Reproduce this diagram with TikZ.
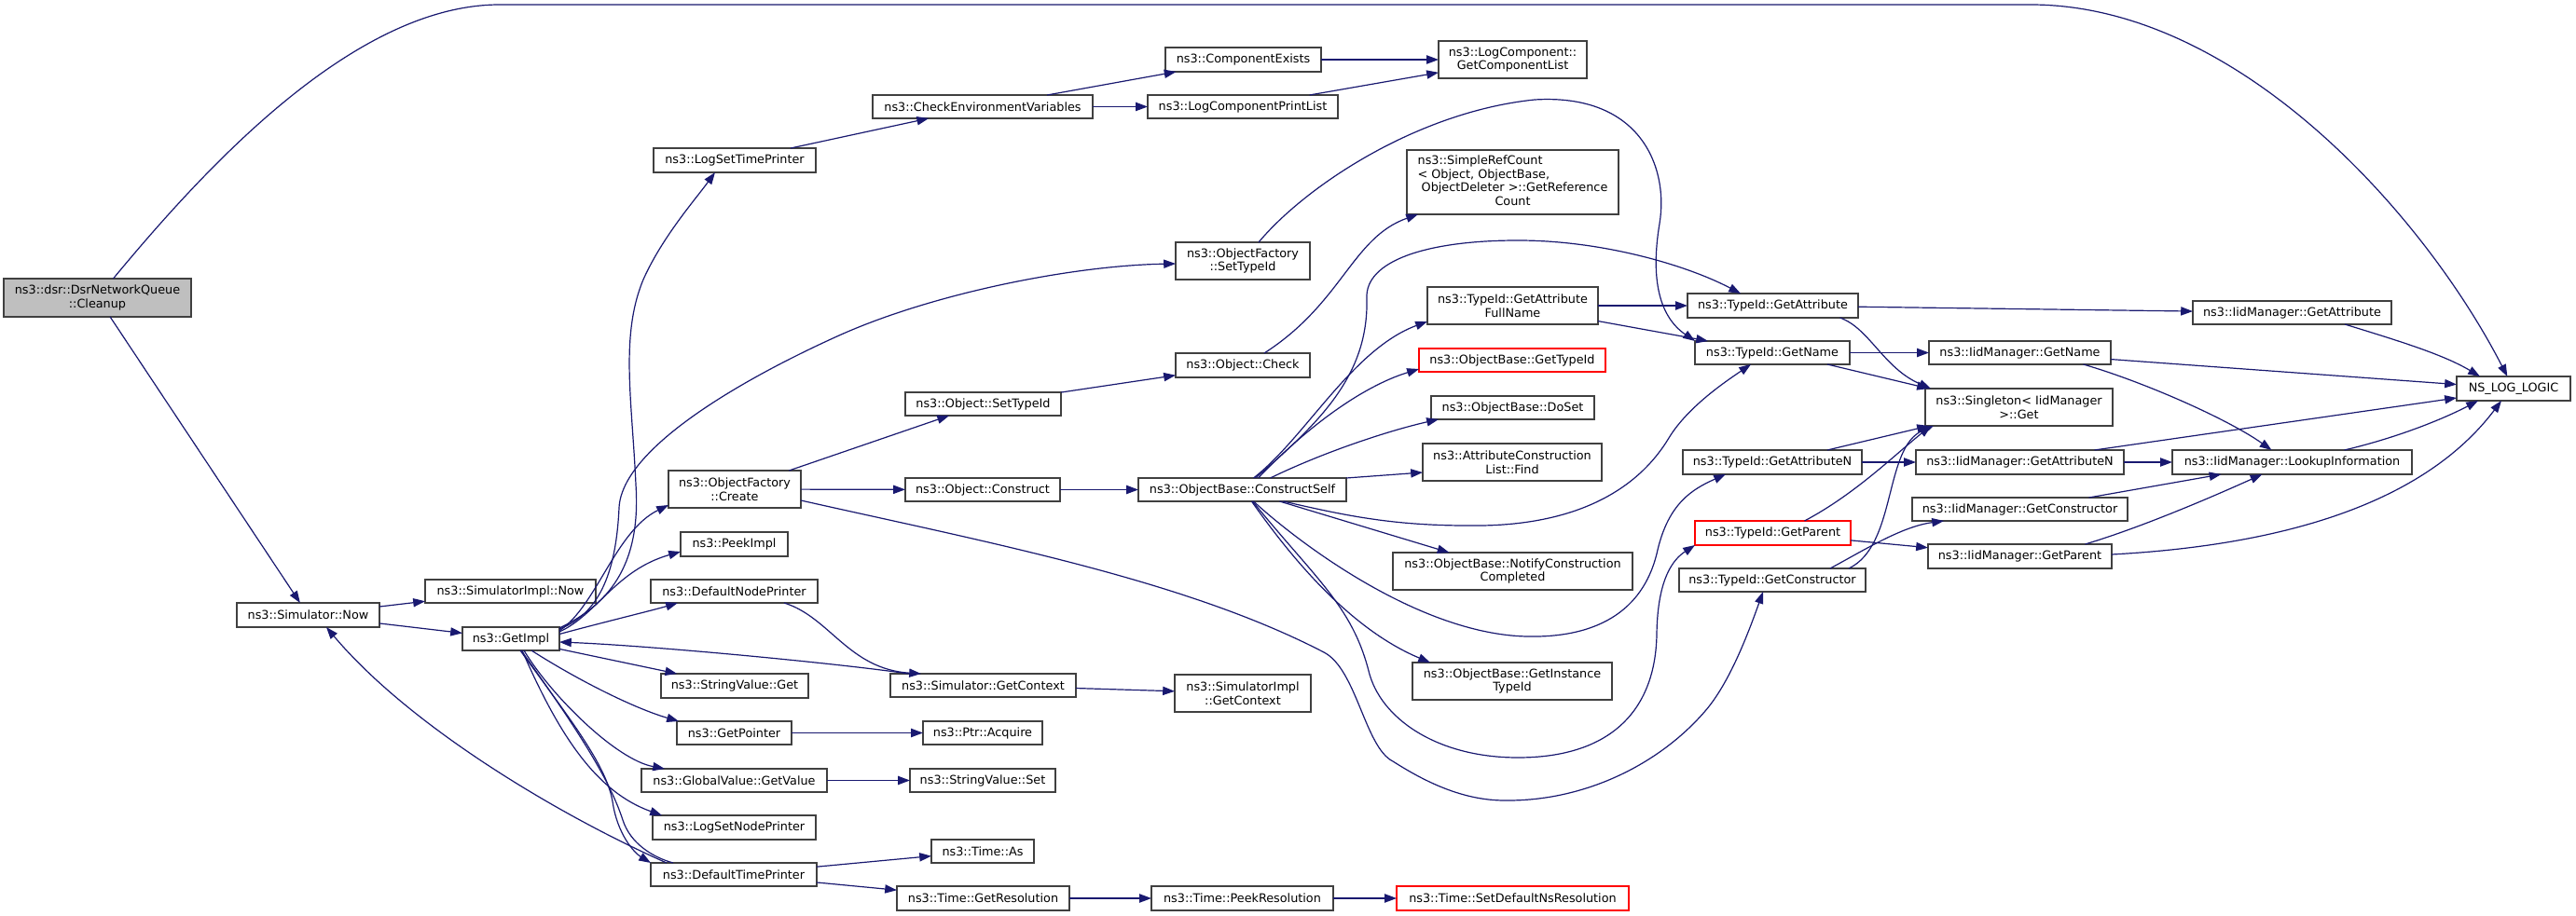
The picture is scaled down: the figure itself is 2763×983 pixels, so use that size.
\documentclass[tikz,border=0pt]{standalone}
\usepackage{fontspec}
\setmainfont{DejaVu Sans}
\usetikzlibrary{arrows.meta}
\definecolor{edgeblue}{HTML}{191970}
\definecolor{nodeline}{HTML}{404040}
\definecolor{rootfill}{HTML}{BFBFBF}
\tikzset{
  box/.style={draw=nodeline, line width=0.65pt, fill=white, rectangle, inner sep=0pt, outer sep=0pt, align=center, font=\fontsize{6.4pt}{7.3pt}\selectfont},
  redbox/.style={draw=red},
  rootbox/.style={fill=rootfill},
  edge/.style={draw=edgeblue, line width=0.6pt, -{Triangle[length=6.4pt,width=4.6pt]}},
  plainedge/.style={draw=edgeblue, line width=0.6pt},
}
\newcommand\nd[7][]{\node[box,#1,minimum width={(#5-#3)*0.5pt},minimum height={(#6-#4)*0.5pt}] (#2) at ({(#3+#5)/2},{(#4+#6)/2}) {#7};}
\begin{document}
\begin{tikzpicture}[x=0.5pt,y=-0.5pt]
\useasboundingbox (0,0) rectangle (2763,983);
\fill[white] (0,0) rectangle (2763,983);
% ---------- nodes ----------
\nd[rootbox]{Cleanup}{4}{299}{205}{340}{ns3::dsr::DsrNetworkQueue\\::Cleanup}
\nd{SimNow}{254}{647}{407}{673}{ns3::Simulator::Now}
\nd{SimImplNow}{456}{622}{639}{647}{ns3::SimulatorImpl::Now}
\nd{GetImpl}{496}{673}{600}{698}{ns3::GetImpl}
\nd{LST}{701}{159}{875}{185}{ns3::LogSetTimePrinter}
\nd{CheckEnv}{936}{102}{1172}{127}{ns3::CheckEnvironmentVariables}
\nd{CompExists}{1250}{51}{1417}{77}{ns3::ComponentExists}
\nd{LCPrintList}{1231}{102}{1435}{127}{ns3::LogComponentPrintList}
\nd{GetCompList}{1543}{44}{1702}{84}{ns3::LogComponent::\\GetComponentList}
\nd{SRC}{1509}{161}{1736}{230}{\begin{tabular}{@{}l@{}}ns3::SimpleRefCount\\< Object, ObjectBase,\\\ ObjectDeleter >::GetReference\\\multicolumn{1}{@{}c@{}}{Count}\end{tabular}}
\nd{OFSetTypeId}{1261}{260}{1405}{300}{ns3::ObjectFactory\\::SetTypeId}
\nd{ObjCheck}{1261}{379}{1405}{405}{ns3::Object::Check}
\nd{ObjSetTypeId}{971}{421}{1138}{446}{ns3::Object::SetTypeId}
\nd{OFCreate}{717}{505}{859}{545}{ns3::ObjectFactory\\::Create}
\nd{ObjConstruct}{971}{513}{1137}{538}{ns3::Object::Construct}
\nd{CSelf}{1221}{513}{1444}{538}{ns3::ObjectBase::ConstructSelf}
\nd{PeekImpl}{730}{571}{845}{597}{ns3::PeekImpl}
\nd{DNP}{698}{622}{877}{647}{ns3::DefaultNodePrinter}
\nd{SVGet}{709}{723}{867}{749}{ns3::StringValue::Get}
\nd{SimGetContext}{955}{723}{1154}{748}{ns3::Simulator::GetContext}
\nd{SimImplGetContext}{1260}{724}{1406}{764}{ns3::SimulatorImpl\\::GetContext}
\nd{GetPointer}{726}{774}{849}{799}{ns3::GetPointer}
\nd{PtrAcquire}{990}{774}{1118}{799}{ns3::Ptr::Acquire}
\nd{GGV}{688}{825}{887}{850}{ns3::GlobalValue::GetValue}
\nd{SVSet}{976}{825}{1132}{850}{ns3::StringValue::Set}
\nd{LSNP}{700}{875}{875}{901}{ns3::LogSetNodePrinter}
\nd{TimeAs}{999}{901}{1109}{926}{ns3::Time::As}
\nd{DTP}{698}{926}{876}{951}{ns3::DefaultTimePrinter}
\nd{TimeGetRes}{962}{951}{1147}{977}{ns3::Time::GetResolution}
\nd{TimePeekRes}{1235}{951}{1430}{977}{ns3::Time::PeekResolution}
\nd[redbox]{SetDefNs}{1498}{951}{1747}{977}{ns3::Time::SetDefaultNsResolution}
\nd{GAFN}{1531}{308}{1714}{348}{ns3::TypeId::GetAttribute\\FullName}
\nd[redbox]{OBGetTypeId}{1522}{374}{1722}{399}{ns3::ObjectBase::GetTypeId}
\nd{DoSet}{1535}{425}{1710}{450}{ns3::ObjectBase::DoSet}
\nd{ACLFind}{1526}{476}{1718}{516}{ns3::AttributeConstruction\\List::Find}
\nd{NotifyCC}{1494}{593}{1751}{633}{ns3::ObjectBase::NotifyConstruction\\Completed}
\nd{GetInstTypeId}{1515}{711}{1729}{751}{ns3::ObjectBase::GetInstance\\TypeId}
\nd{TIDGetAttr}{1810}{315}{1993}{341}{ns3::TypeId::GetAttribute}
\nd{TIDGetName}{1818}{366}{1984}{391}{ns3::TypeId::GetName}
\nd{TIDGetAttrN}{1805}{483}{1997}{509}{ns3::TypeId::GetAttributeN}
\nd[redbox]{TIDGetParent}{1818}{559}{1985}{585}{ns3::TypeId::GetParent}
\nd{TIDGetCtor}{1801}{610}{2001}{635}{ns3::TypeId::GetConstructor}
\nd{IidGetAttr}{2352}{323}{2565}{348}{ns3::IidManager::GetAttribute}
\nd{IidGetName}{2069}{366}{2264}{391}{ns3::IidManager::GetName}
\nd{Singleton}{2065}{417}{2266}{457}{ns3::Singleton< IidManager\\>::Get}
\nd{NSLOG}{2635}{404}{2757}{430}{NS\_LOG\_LOGIC}
\nd{IidGetAttrN}{2055}{483}{2278}{509}{ns3::IidManager::GetAttributeN}
\nd{LookupInfo}{2330}{483}{2587}{509}{ns3::IidManager::LookupInformation}
\nd{IidGetCtor}{2051}{534}{2282}{559}{ns3::IidManager::GetConstructor}
\nd{IidGetParent}{2068}{584}{2265}{610}{ns3::IidManager::GetParent}
% ---------- edges ----------
\draw[edge] (Cleanup) .. controls (220,180) and (380,5) .. (536,5) -- (2178,5) .. controls (2400,5) and (2600,230) .. (NSLOG);
\draw[edge] (Cleanup) -- (SimNow);
\draw[edge] (SimNow) -- (SimImplNow);
\draw[edge] (SimNow) -- (GetImpl);
\draw[edge] ([yshift=-0.5pt]GetImpl.north east) .. controls (650,650) and (688,610) .. (682,520) .. controls (678,430) and (665,360) .. (690,300) .. controls (710,255) and (745,215) .. ([xshift=-10.5pt]LST.south);
\draw[edge] ([yshift=-1pt]GetImpl.north east) .. controls (645,658) and (661,610) .. (664,545) .. controls (667,480) and (800,405) .. (900,360) .. controls (1000,315) and (1150,285) .. ([yshift=-1.5pt]OFSetTypeId.west);
\draw[edge] ([yshift=-2pt]GetImpl.north east) .. controls (640,650) and (660,570) .. ([yshift=-8.5pt]OFCreate.west);
\draw[edge] ([yshift=-2.5pt]GetImpl.north east) .. controls (640,660) and (660,612) .. ([yshift=-4pt]PeekImpl.west);
\draw[edge] ([yshift=2.5pt]GetImpl.east) .. controls (650,667) and (700,655) .. ([xshift=-30.25pt]DNP.south);
\draw[edge] ([xshift=-40pt]SimGetContext.north) .. controls (900,712) and (700,693) .. ([yshift=-1.75pt]GetImpl.east);
\draw[edge] ([xshift=26.75pt]DNP.south) .. controls (890,662) and (910,718) .. ([xshift=-33.25pt]SimGetContext.north);
\draw[edge] (SimGetContext) -- (SimImplGetContext);
\draw[edge] (GetImpl) -- (SVGet);
\draw[edge] ([xshift=11pt]GetImpl.south) .. controls (620,730) and (680,760) .. ([xshift=1pt]GetPointer.north west);
\draw[edge] ([xshift=7pt]GetImpl.south) .. controls (590,745) and (660,815) .. ([xshift=-37.25pt]GGV.north);
\draw[edge] ([xshift=6pt]GetImpl.south) .. controls (600,790) and (640,850) .. ([xshift=-38.75pt]LSNP.north);
\draw[edge] ([xshift=5pt]GetImpl.south) .. controls (610,770) and (650,820) .. (657,860) .. controls (662,895) and (680,915) .. (DTP.north west);
\draw[plainedge] ([xshift=5.5pt]GetImpl.south) .. controls (625,790) and (655,840) .. (668,880) .. controls (676,905) and (700,920) .. ([xshift=-32.5pt]DTP.north);
\draw[edge] ([xshift=-36pt]DTP.north) .. controls (600,875) and (440,780) .. ([xshift=9.75pt]SimNow.south);
\draw[edge] (DTP) -- (TimeAs);
\draw[edge] (DTP) -- (TimeGetRes);
\draw[edge] (TimeGetRes) -- (TimePeekRes);
\draw[edge] (TimePeekRes) -- (SetDefNs);
\draw[edge] (GetPointer) -- (PtrAcquire);
\draw[edge] (GGV) -- (SVSet);
\draw[edge] (LST) -- (CheckEnv);
\draw[edge] (CheckEnv) -- (CompExists);
\draw[edge] (CheckEnv) -- (LCPrintList);
\draw[edge] (CompExists) -- (GetCompList);
\draw[edge] (LCPrintList) -- (GetCompList);
\draw[edge] ([xshift=8.5pt]OFSetTypeId.north) .. controls (1400,200) and (1520,120) .. (1646,107) .. controls (1760,100) and (1790,180) .. (1780,240) .. controls (1770,300) and (1780,340) .. (TIDGetName.north west);
\draw[edge] (OFCreate) -- (ObjSetTypeId);
\draw[edge] (OFCreate) -- (ObjConstruct);
\draw[edge] ([yshift=-6pt]OFCreate.east) .. controls (1059,582) and (1270,622) .. (1420,700) .. controls (1455,718) and (1464,802) .. (1494,817) .. controls (1530,840) and (1570,859) .. (1614,859) .. controls (1700,860) and (1780,820) .. (1829,763) .. controls (1855,733) and (1875,680) .. ([xshift=-5pt]TIDGetCtor.south);
\draw[edge] (ObjSetTypeId) -- (ObjCheck);
\draw[edge] ([xshift=11.5pt]ObjCheck.north) .. controls (1440,325) and (1450,255) .. ([xshift=6pt]SRC.south west);
\draw[edge] (ObjConstruct) -- (CSelf);
\draw[edge] ([xshift=6pt]CSelf.north) .. controls (1400,470) and (1450,375) .. ([yshift=-8.5pt]GAFN.west);
\draw[edge] ([xshift=7pt]CSelf.north) .. controls (1420,450) and (1468,400) .. (1466,320) .. controls (1464,280) and (1530,258) .. (1628,258) .. controls (1720,258) and (1810,285) .. ([xshift=-17.25pt]TIDGetAttr.north);
\draw[edge] ([xshift=8.5pt]CSelf.north) .. controls (1400,460) and (1460,415) .. ([yshift=-4.75pt]OBGetTypeId.west);
\draw[edge] ([xshift=15pt]CSelf.north) .. controls (1420,485) and (1490,462) .. ([xshift=-39.75pt]DoSet.south);
\draw[edge] (CSelf.north east) -- ([yshift=-5.5pt]ACLFind.west);
\draw[edge] ([xshift=22pt]CSelf.south) .. controls (1450,555) and (1500,565) .. (1590,564) .. controls (1700,562) and (1760,520) .. (1790,470) .. controls (1810,437) and (1850,410) .. ([xshift=-11.5pt]TIDGetName.south);
\draw[edge] ([xshift=20pt]CSelf.south) -- ([xshift=-34pt]NotifyCC.north);
\draw[edge] ([xshift=6pt]CSelf.south) .. controls (1390,580) and (1520,680) .. (1637,683) .. controls (1720,685) and (1765,650) .. (1778,590) .. controls (1790,540) and (1815,525) .. ([xshift=-25pt]TIDGetAttrN.south);
\draw[edge] ([xshift=5pt]CSelf.south) .. controls (1400,620) and (1460,680) .. ([xshift=-44pt]GetInstTypeId.north);
\draw[edge] ([xshift=5.5pt]CSelf.south) .. controls (1410,620) and (1450,650) .. (1468,720) .. controls (1480,770) and (1540,813) .. (1628,813) .. controls (1730,813) and (1776,760) .. (1777,680) .. controls (1778,620) and (1795,600) .. (TIDGetParent.south west);
\draw[edge] (GAFN) -- (TIDGetAttr);
\draw[edge] (GAFN) -- (TIDGetName);
\draw[edge] (TIDGetAttr) -- (IidGetAttr);
\draw[edge] ([xshift=36pt]TIDGetAttr.south) .. controls (2005,352) and (2020,395) .. ([xshift=3pt]Singleton.north west);
\draw[edge] (TIDGetName) -- (IidGetName);
\draw[edge] ([xshift=-12pt]TIDGetName.south east) -- ([xshift=2pt]Singleton.north west);
\draw[edge] ([xshift=29.5pt]TIDGetAttrN.north) -- ([xshift=2pt]Singleton.south west);
\draw[edge] (TIDGetAttrN) -- (IidGetAttrN);
\draw[edge] ([xshift=17pt]TIDGetParent.north) .. controls (1990,530) and (2030,490) .. ([xshift=3pt]Singleton.south west);
\draw[edge] (TIDGetParent) -- (IidGetParent);
\draw[edge] ([xshift=41pt]TIDGetCtor.north) .. controls (2035,585) and (2020,480) .. ([xshift=4.5pt]Singleton.south west);
\draw[edge] ([xshift=31pt]TIDGetCtor.north) .. controls (2000,590) and (2040,565) .. ([xshift=17pt]IidGetCtor.south west);
\draw[edge] ([xshift=28.25pt]IidGetAttr.south) .. controls (2570,365) and (2620,380) .. ([xshift=-18pt]NSLOG.north);
\draw[edge] (IidGetName) -- (NSLOG);
\draw[edge] ([xshift=34pt]IidGetName.south) .. controls (2300,410) and (2390,450) .. ([xshift=-11pt]LookupInfo.north);
\draw[edge] ([xshift=40pt]IidGetAttrN.north) -- ([yshift=-5pt]NSLOG.west);
\draw[edge] (IidGetAttrN) -- (LookupInfo);
\draw[edge] ([xshift=37pt]IidGetCtor.north) -- ([xshift=-38pt]LookupInfo.south);
\draw[edge] ([xshift=35pt]IidGetParent.north) .. controls (2300,565) and (2380,530) .. ([xshift=-16pt]LookupInfo.south);
\draw[edge] ([yshift=1pt]IidGetParent.east) .. controls (2450,585) and (2600,540) .. ([xshift=-6.5pt]NSLOG.south);
\draw[edge] ([xshift=28pt]LookupInfo.north) .. controls (2570,470) and (2620,450) .. ([xshift=-19pt]NSLOG.south);
\end{tikzpicture}
\end{document}
